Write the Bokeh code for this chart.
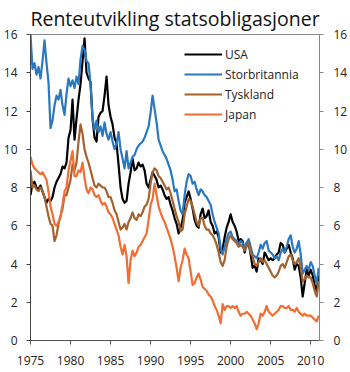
from bokeh.plotting import figure
from bokeh.models import LinearAxis, FixedTicker, Range1d, Legend, LegendItem
from bokeh.embed import file_html
from bokeh.resources import INLINE

# Quarterly observations, first value = 1975.00, last value = 2011.00
start_year = 1975.0
step = 0.25

usa = [7.6, 8.2, 8.3, 8.0, 7.9, 8.1, 7.8, 7.5, 7.2, 7.4, 7.3, 7.5,
       8.0, 8.3, 8.5, 8.7, 9.1, 9.0, 9.3, 10.6, 11.0, 12.6, 10.5, 11.6,
       12.6, 13.4, 14.6, 15.8, 14.0, 13.7, 13.5, 11.6, 10.6, 10.4, 11.7, 11.9,
       12.0, 12.8, 13.8, 12.3, 11.7, 11.3, 10.6, 10.3, 9.2, 8.0, 7.4, 7.2,
       7.3, 8.2, 8.8, 9.5, 8.9, 9.0, 9.3, 9.1, 9.2, 8.9, 8.2, 8.0,
       8.4, 8.8, 8.6, 8.4, 8.0, 8.1, 7.9, 7.6, 7.4, 7.5, 7.1, 6.8,
       6.4, 6.1, 5.6, 5.9, 6.3, 7.2, 7.5, 7.8, 7.4, 6.9, 6.3, 6.0,
       5.9, 6.6, 6.9, 6.4, 6.5, 6.8, 6.2, 6.0, 5.6, 5.7, 5.4, 4.6,
       4.8, 5.4, 5.9, 6.2, 6.6, 6.2, 6.0, 5.7, 5.2, 5.3, 5.2, 4.6,
       5.1, 5.1, 4.5, 3.8, 3.9, 3.6, 4.3, 4.2, 4.0, 4.6, 4.4, 4.2,
       4.3, 4.2, 4.3, 4.5, 4.6, 5.1, 5.0, 4.6, 4.8, 5.0, 4.6, 4.3,
       3.7, 4.0, 3.9, 3.3, 2.3, 3.0, 3.7, 3.4, 3.7, 3.4, 2.9, 2.6,
       3.4]

storbritannia = [16.0, 14.2, 14.5, 13.9, 14.3, 13.7, 14.6, 15.7, 14.5, 13.5, 11.1, 11.5,
                 12.3, 12.8, 12.6, 13.1, 12.3, 11.8, 12.9, 13.7, 13.3, 13.6, 13.2, 13.8,
                 13.4, 14.7, 15.4, 15.2, 14.6, 14.5, 13.4, 11.6, 11.0, 11.5, 10.9, 11.2,
                 10.7, 11.4, 10.8, 10.5, 10.9, 10.4, 10.0, 10.3, 10.9, 10.0, 9.5, 9.0,
                 9.9, 9.0, 9.3, 9.6, 9.7, 10.0, 10.2, 10.3, 10.4, 10.6, 10.9, 11.2,
                 11.9, 12.8, 12.1, 11.4, 10.5, 10.2, 9.9, 9.7, 9.5, 9.2, 8.9, 8.4,
                 7.8, 7.9, 7.3, 6.8, 6.6, 7.6, 8.3, 8.7, 8.6, 8.2, 8.3, 7.9,
                 7.6, 7.9, 7.8, 7.6, 7.5, 7.3, 7.1, 6.6, 6.2, 5.9, 5.6, 4.8,
                 4.5, 4.9, 5.3, 5.6, 5.7, 5.4, 5.3, 5.2, 5.0, 5.2, 5.1, 4.9,
                 5.1, 5.3, 4.9, 4.5, 4.4, 4.3, 4.6, 5.0, 4.8, 5.1, 5.2, 4.7,
                 4.6, 4.5, 4.3, 4.4, 4.2, 4.6, 4.8, 4.6, 4.9, 5.3, 5.5, 4.9,
                 4.6, 4.8, 5.2, 4.5, 3.5, 3.7, 3.9, 3.7, 4.1, 3.9, 3.4, 3.0,
                 3.8]

tyskland = [8.9, 8.0, 8.1, 7.9, 7.8, 8.0, 7.8, 7.5, 7.0, 6.5, 6.1, 6.0,
            5.2, 5.5, 6.1, 6.5, 6.9, 7.6, 7.6, 8.0, 8.4, 9.2, 8.9, 9.3,
            10.4, 11.3, 10.8, 10.0, 9.6, 9.3, 8.9, 8.5, 8.1, 8.0, 8.2, 8.1,
            8.0, 8.0, 7.8, 7.5, 7.5, 7.2, 6.8, 6.6, 6.2, 5.8, 5.9, 6.1,
            5.8, 6.2, 6.4, 6.7, 6.4, 6.3, 6.6, 6.5, 6.7, 7.0, 7.1, 7.4,
            8.2, 8.8, 9.0, 8.9, 8.6, 8.5, 8.3, 8.1, 7.9, 8.0, 7.7, 7.3,
            6.9, 6.5, 6.2, 5.7, 5.8, 6.6, 7.0, 7.4, 7.3, 7.0, 6.6, 6.2,
            6.0, 6.4, 6.4, 6.0, 5.8, 5.8, 5.6, 5.5, 5.3, 5.0, 4.6, 4.1,
            3.9, 4.2, 4.9, 5.3, 5.5, 5.3, 5.2, 5.1, 4.9, 5.0, 4.9, 4.7,
            4.9, 5.1, 4.6, 4.4, 4.0, 3.9, 4.1, 4.3, 4.1, 4.2, 4.0, 3.8,
            3.6, 3.4, 3.3, 3.4, 3.6, 3.9, 4.0, 3.8, 4.1, 4.4, 4.5, 4.2,
            4.0, 4.1, 4.3, 3.8, 3.1, 3.2, 3.4, 3.3, 3.3, 3.0, 2.6, 2.3,
            3.1]

japan = [9.6, 9.2, 9.0, 8.9, 8.8, 8.7, 8.8, 8.6, 8.4, 7.8, 7.0, 6.6,
         6.1, 6.0, 6.2, 6.5, 7.1, 7.8, 8.0, 8.9, 9.4, 9.9, 8.6, 8.6,
         8.9, 8.8, 9.3, 8.5, 7.9, 7.7, 8.0, 7.9, 7.6, 7.5, 7.6, 7.3,
         7.1, 7.2, 7.0, 6.7, 6.6, 6.4, 6.1, 5.8, 5.5, 4.9, 4.5, 5.0,
         4.4, 3.0, 4.2, 4.7, 4.4, 4.6, 4.9, 5.0, 5.2, 5.4, 5.6, 6.3,
         7.1, 7.4, 8.2, 7.6, 7.0, 6.7, 6.4, 6.2, 5.9, 5.6, 5.3, 4.9,
         4.4, 3.8, 3.1, 3.8, 4.2, 4.8, 4.5, 4.3, 3.6, 2.9, 3.0, 3.3,
         3.5, 3.2, 2.8, 2.7, 2.6, 2.4, 2.3, 2.1, 1.8, 1.6, 1.3, 0.9,
         1.9, 1.6, 1.8, 1.8, 1.7, 1.8, 1.7, 1.8, 1.5, 1.3, 1.4, 1.4,
         1.5, 1.4, 1.3, 1.1, 0.9, 0.6, 0.9, 1.4, 1.3, 1.5, 1.8, 1.5,
         1.4, 1.3, 1.4, 1.5, 1.6, 1.8, 1.8, 1.7, 1.7, 1.8, 1.6, 1.6,
         1.5, 1.7, 1.5, 1.4, 1.3, 1.4, 1.3, 1.3, 1.3, 1.2, 1.1, 1.0,
         1.3]

title_text = "Renteutvikling statsobligasjoner"
series_names = ["USA", "Storbritannia", "Tyskland", "Japan"]
series_colors = ["#000000", "#2a78c0", "#a4632e", "#f26d31"]
x_ticks = [1975, 1980, 1985, 1990, 1995, 2000, 2005, 2010]
y_ticks = [0, 2, 4, 6, 8, 10, 12, 14, 16]

years = [start_year + i * step for i in range(len(usa))]

FONT = "Open Sans"

p = figure(width=350, height=372, output_backend="svg", toolbar_location=None,
           x_range=Range1d(1975, 2011.1), y_range=Range1d(0, 16),
           min_border_left=30, min_border_right=31, min_border_top=32, min_border_bottom=32,
           background_fill_color="white", border_fill_color="white")

p.title.text = title_text
p.title.align = "center"
p.title.text_font = FONT
p.title.text_font_size = "19.5px"
p.title.text_font_style = "normal"
p.title.text_color = "#111111"
p.title.standoff = 5

p.xgrid.visible = False
p.ygrid.visible = False
p.outline_line_color = "#888888"
p.outline_line_width = 1

renderers = []
for name, vals, col in zip(series_names, [usa, storbritannia, tyskland, japan], series_colors):
    r = p.line(years, vals, line_color=col, line_width=2.2, line_join="round")
    renderers.append(r)

def style_axis(ax, color):
    ax.ticker = FixedTicker(ticks=y_ticks)
    ax.axis_line_color = color
    ax.major_tick_line_color = color
    ax.minor_tick_line_color = None
    ax.major_tick_in = 0
    ax.major_tick_out = 4
    ax.major_label_text_font = FONT
    ax.major_label_text_font_size = "12px"
    ax.major_label_text_color = "#222222"

yl = p.yaxis[0]
style_axis(yl, "#444444")
yl.major_label_standoff = 9

yr = LinearAxis()
style_axis(yr, "#888888")
yr.major_label_standoff = 10
p.add_layout(yr, "right")

xa = p.xaxis[0]
xa.ticker = FixedTicker(ticks=x_ticks)
xa.axis_line_color = "#555555"
xa.major_tick_line_color = "#555555"
xa.minor_tick_line_color = None
xa.major_tick_in = 0
xa.major_tick_out = 4
xa.major_label_standoff = 11
xa.major_label_text_font = FONT
xa.major_label_text_font_size = "12px"
xa.major_label_text_color = "#222222"

legend = Legend(items=[LegendItem(label=n, renderers=[r]) for n, r in zip(series_names, renderers)],
                location=(154, 216), orientation="vertical",
                padding=0, margin=0, spacing=0,
                glyph_width=38, glyph_height=20, label_height=20, label_standoff=3,
                label_text_font=FONT, label_text_font_size="12px", label_text_color="#222222",
                background_fill_alpha=0, border_line_color=None)
p.add_layout(legend)

open("out.html", "w").write(file_html(p, INLINE))
